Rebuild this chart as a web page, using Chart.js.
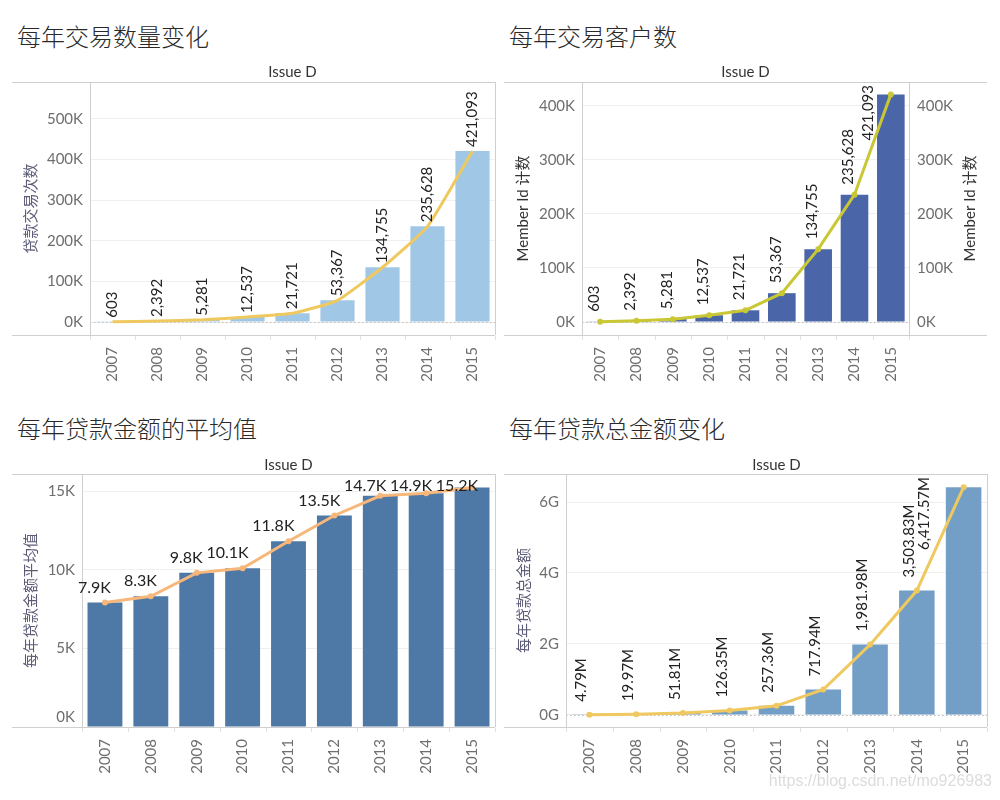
<!DOCTYPE html>
<html><head><meta charset="utf-8">
<script src="https://cdn.jsdelivr.net/npm/chart.js@4.4.1/dist/chart.umd.min.js"></script>
<style>
body{margin:0;background:#fff;width:1000px;height:800px;position:relative;overflow:hidden;}
.t{position:absolute;font-family:"Noto Sans CJK SC","Noto Sans",sans-serif;font-weight:300;font-size:24px;color:#2a2a2a;line-height:1;white-space:nowrap;}
canvas{position:absolute;}
.wm{position:absolute;left:760px;top:772px;width:232px;text-align:right;font-family:"Liberation Sans",Arial,sans-serif;font-size:16px;color:#dcdcdc;white-space:nowrap;}
</style></head>
<body>
<div class="t" style="left:17px;top:24px">每年交易数量变化</div>
<div class="t" style="left:509px;top:24px">每年交易客户数</div>
<div class="t" style="left:17px;top:416px">每年贷款金额的平均值</div>
<div class="t" style="left:509px;top:416px">每年贷款总金额变化</div>
<canvas id="c1" width="500" height="330" style="left:0;top:60px;width:500px;height:330px"></canvas>
<canvas id="c2" width="500" height="330" style="left:500px;top:60px;width:500px;height:330px"></canvas>
<canvas id="c3" width="500" height="350" style="left:0;top:450px;width:500px;height:350px"></canvas>
<canvas id="c4" width="500" height="350" style="left:500px;top:450px;width:500px;height:350px"></canvas>
<div class="wm">https://blog.csdn.net/mo926983</div>
<script>
// ---- data ----
const years = ['2007','2008','2009','2010','2011','2012','2013','2014','2015'];
const tradeCounts = [603, 2392, 5281, 12537, 21721, 53367, 134755, 235628, 421093];
const memberCounts = [603, 2392, 5281, 12537, 21721, 53367, 134755, 235628, 421093];
const avgAmounts = [7920, 8320, 9810, 10100, 11820, 13460, 14710, 14870, 15240];
const totalAmountsM = [4.79, 19.97, 51.81, 126.35, 257.36, 717.94, 1981.98, 3503.83, 6417.57];
const ticks1 = [0, 100000, 200000, 300000, 400000, 500000];
const ticks2 = [0, 100000, 200000, 300000, 400000];
const ticks3 = [0, 5000, 10000, 15000];
const ticks4 = [0, 2000, 4000, 6000];

const NUM_FONT = 'Lato, "Noto Sans", sans-serif';
const CJK_FONT = '"Noto Sans CJK SC", sans-serif';
const fmtK = v => (v/1000) + 'K';
const fmtComma = v => v.toLocaleString('en-US');

const deco = {
  id: 'deco',
  beforeDatasetsDraw(chart, args, o) {
    const ctx = chart.ctx, a = chart.chartArea;
    if (o.zeroLine) {
      const y = chart.scales.y.getPixelForValue(0);
      ctx.save();
      ctx.strokeStyle = '#bbb'; ctx.lineWidth = 1; ctx.setLineDash([1.5, 2.5]);
      ctx.beginPath(); ctx.moveTo(a.left, Math.round(y)+0.5); ctx.lineTo(a.right, Math.round(y)+0.5); ctx.stroke();
      ctx.restore();
    }
  },
  afterDraw(chart, args, o) {
    const ctx = chart.ctx, a = chart.chartArea;
    ctx.save();
    // frame
    ctx.strokeStyle = '#cfcfcf'; ctx.lineWidth = 1;
    const L = o.frameLeft, R = o.frameRight;
    ctx.beginPath();
    ctx.moveTo(L, a.top+0.5); ctx.lineTo(R, a.top+0.5);
    ctx.moveTo(L, a.bottom+0.5); ctx.lineTo(R, a.bottom+0.5);
    ctx.moveTo(a.left+0.5, a.top); ctx.lineTo(a.left+0.5, a.bottom);
    (o.vlines||[]).forEach(x => { ctx.moveTo(x+0.5, a.top); ctx.lineTo(x+0.5, a.bottom); });
    ctx.stroke();
    // category boundary ticks
    ctx.strokeStyle = '#e0e0e0';
    ctx.beginPath();
    const n = years.length, cw = (a.right - a.left)/n;
    for (let i=0;i<=n;i++){ const x = Math.round(a.left + i*cw)+0.5; ctx.moveTo(x, a.bottom+1); ctx.lineTo(x, a.bottom+5); }
    ctx.stroke();
    // y tick labels (edge labels kept inside the pane)
    ctx.fillStyle = '#6e6e6e'; ctx.font = '15px ' + NUM_FONT; ctx.textBaseline = 'middle';
    (o.axes||[]).forEach(ax => {
      const s = chart.scales[ax.id];
      ax.ticks.forEach(v => {
        const y = Math.min(s.getPixelForValue(v), a.bottom - 10);
        ctx.textAlign = ax.align;
        ctx.fillText(ax.fmt(v), ax.align === 'right' ? a.left - 7 : a.right + 8, y);
      });
    });
    // header
    ctx.fillStyle = '#333'; ctx.font = '15px ' + NUM_FONT; ctx.textAlign = 'center'; ctx.textBaseline = 'middle';
    ctx.fillText('Issue D', (a.left+a.right)/2, o.headerY);
    // axis titles
    (o.titles||[]).forEach(t => {
      ctx.save();
      ctx.translate(t.x, (a.top+a.bottom)/2);
      ctx.rotate(-Math.PI/2);
      ctx.fillStyle = t.color; ctx.font = '15px ' + t.font;
      ctx.textAlign = 'center'; ctx.textBaseline = 'middle';
      ctx.fillText(t.text, 0, 0);
      ctx.restore();
    });
    // data labels
    const lab = o.labels;
    const meta = chart.getDatasetMeta(lab.dataset);
    const data = chart.data.datasets[lab.dataset].data;
    ctx.fillStyle = '#222';
    ctx.font = lab.size + 'px ' + NUM_FONT;
    meta.data.forEach((pt, i) => {
      const txt = lab.fmt(data[i]);
      const w = ctx.measureText(txt).width;
      if (lab.rotate) {
        let x = pt.x + lab.dx;
        let bottom = pt.y - lab.gap;
        if (bottom - w < a.top + 3) { bottom = a.top + 3 + w; x += lab.clampDx; }
        ctx.save();
        ctx.translate(x, bottom);
        ctx.rotate(-Math.PI/2);
        ctx.textAlign = 'left'; ctx.textBaseline = 'middle';
        ctx.fillText(txt, 0, 0);
        ctx.restore();
      } else {
        let cy = Math.max(pt.y - lab.gap, a.top + 12);
        ctx.textAlign = 'right'; ctx.textBaseline = 'middle';
        ctx.fillText(txt, pt.x + lab.dx, cy);
      }
    });
    ctx.restore();
  }
};

function makeChart(id, cfg) {
  const yScale = (pos, width) => ({
    type: 'linear', position: pos, min: cfg.min, max: cfg.max,
    afterBuildTicks: s => { s.ticks = cfg.ticks.map(v => ({value: v})); },
    afterFit: s => { s.width = width; },
    grid: { display: pos === 'left', color: '#efefef', drawTicks: false, lineWidth: 1 },
    border: { display: false },
    ticks: { display: false }
  });
  const scales = {
    x: {
      type: 'category', offset: true,
      afterFit: s => { s.height = cfg.xHeight; },
      grid: { display: false }, border: { display: false },
      ticks: { color: '#6e6e6e', font: { size: 15, family: NUM_FONT }, minRotation: 90, maxRotation: 90, padding: 4, autoSkip: false }
    },
    y: yScale('left', cfg.yWidth)
  };
  const axes = [{ id: 'y', ticks: cfg.ticks, fmt: cfg.tickFmt, align: 'right' }];
  if (cfg.rightAxis) {
    scales.y2 = yScale('right', cfg.rightAxis);
    axes.push({ id: 'y2', ticks: cfg.ticks, fmt: cfg.tickFmt, align: 'left' });
  }
  const datasets = [
    { type: 'line', data: cfg.values, borderColor: cfg.lineColor, backgroundColor: cfg.lineColor,
      borderWidth: 3, pointRadius: cfg.pointRadius, pointHoverRadius: cfg.pointRadius, pointBorderWidth: 0,
      tension: cfg.tension || 0, order: 0, yAxisID: 'y' },
    { type: 'bar', data: cfg.values, backgroundColor: cfg.barColor, categoryPercentage: 1, barPercentage: 0.76, order: 1, yAxisID: 'y' }
  ];
  return new Chart(document.getElementById(id), {
    data: { labels: years, datasets },
    options: {
      responsive: false, animation: false, devicePixelRatio: 1,
      layout: { padding: cfg.padding },
      scales,
      plugins: { legend: { display: false }, tooltip: { enabled: false },
        deco: Object.assign({ axes, labels: Object.assign({ dataset: 0 }, cfg.labels) }, cfg.deco) }
    },
    plugins: [deco]
  });
}

// Panel 1
makeChart('c1', {
  values: tradeCounts, ticks: ticks1, tickFmt: fmtK, min: -32000, max: 591000,
  barColor: '#a0c8e6', lineColor: '#efc95f', pointRadius: 0, tension: 0.15,
  yWidth: 90, xHeight: 55, padding: { left: 0, right: 5, top: 22, bottom: 0 },
  labels: { rotate: true, dx: 0, gap: 4, clampDx: -14, size: 15, fmt: fmtComma },
  deco: { zeroLine: true, frameLeft: 12, frameRight: 495, vlines: [495], headerY: 12,
    titles: [{ x: 30, text: '贷款交易次数', color: '#5c5c78', font: CJK_FONT }] }
});
// Panel 2
makeChart('c2', {
  values: memberCounts, ticks: ticks2, tickFmt: fmtK, min: -24000, max: 444000,
  barColor: '#4a66a8', lineColor: '#c9c733', pointRadius: 3,
  yWidth: 82, rightAxis: 91, xHeight: 55, padding: { left: 0, right: 0, top: 22, bottom: 0 },
  labels: { rotate: true, dx: -6, gap: 10, clampDx: -17, size: 15, fmt: fmtComma },
  deco: { zeroLine: true, frameLeft: 4, frameRight: 487, vlines: [409], headerY: 12,
    titles: [{ x: 23, text: 'Member Id 计数', color: '#333', font: NUM_FONT + ', ' + CJK_FONT },
             { x: 470, text: 'Member Id 计数', color: '#333', font: NUM_FONT + ', ' + CJK_FONT }] }
});
// Panel 3
makeChart('c3', {
  values: avgAmounts, ticks: ticks3, tickFmt: fmtK, min: 0, max: 16100,
  barColor: '#4e78a6', lineColor: '#f7b77a', pointRadius: 3,
  yWidth: 82, xHeight: 73, padding: { left: 0, right: 5, top: 24, bottom: 0 },
  labels: { rotate: false, dx: 6, gap: 15, size: 16, fmt: v => (v/1000).toFixed(1) + 'K' },
  deco: { zeroLine: false, frameLeft: 12, frameRight: 495, vlines: [495], headerY: 15,
    titles: [{ x: 30, text: '每年贷款金额平均值', color: '#5c5c78', font: CJK_FONT }] }
});
// Panel 4
makeChart('c4', {
  values: totalAmountsM, ticks: ticks4, tickFmt: v => (v/1000) + 'G', min: -340, max: 6790,
  barColor: '#739fc7', lineColor: '#efc95f', pointRadius: 3,
  yWidth: 66, xHeight: 73, padding: { left: 0, right: 13, top: 24, bottom: 0 },
  labels: { rotate: true, dx: -8, gap: 13, clampDx: -31, size: 15,
    fmt: v => v.toLocaleString('en-US', { minimumFractionDigits: 2, maximumFractionDigits: 2 }) + 'M' },
  deco: { zeroLine: true, frameLeft: 4, frameRight: 487, vlines: [487], headerY: 15,
    titles: [{ x: 23, text: '每年贷款总金额', color: '#5c5c78', font: CJK_FONT }] }
});
</script>
</body></html>
